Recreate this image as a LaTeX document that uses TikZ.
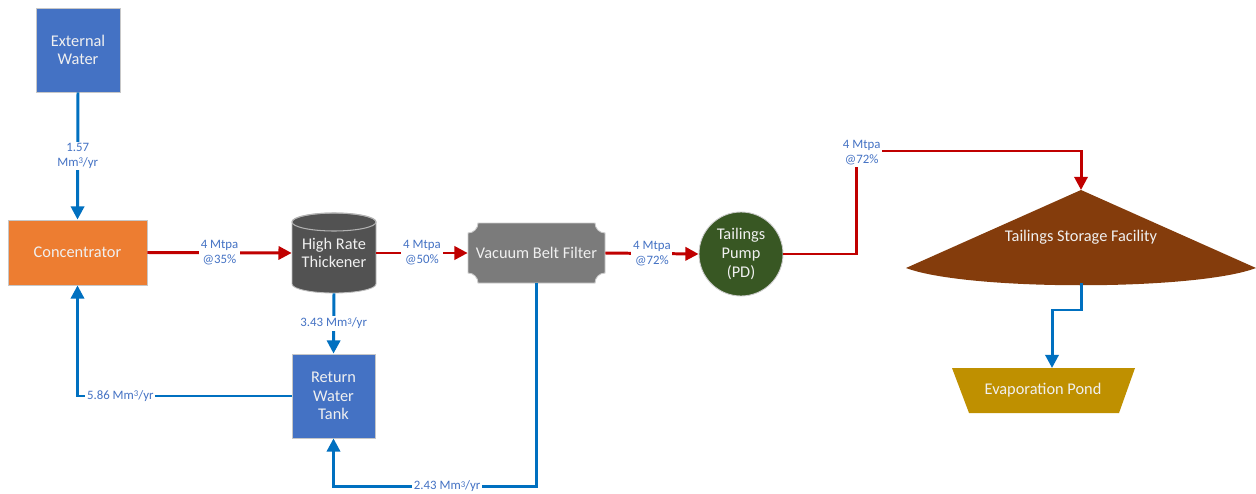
\documentclass[tikz,border=0pt]{standalone}
\usepackage{fontspec}
\setmainfont{Carlito}
\usetikzlibrary{arrows.meta}

\definecolor{waterblue}{HTML}{4472C4}
\definecolor{concorange}{HTML}{ED7D31}
\definecolor{thkgray}{HTML}{525252}
\definecolor{filtergray}{HTML}{7B7B7B}
\definecolor{pumpgreen}{HTML}{385723}
\definecolor{tsfbrown}{HTML}{843C0C}
\definecolor{pondgold}{HTML}{BF9000}
\definecolor{flowred}{HTML}{C00000}
\definecolor{flowblue}{HTML}{0070C0}
\definecolor{labelblue}{HTML}{4472C4}

\newcommand{\mcube}{Mm\raisebox{0.45ex}{\fontsize{5}{5}\selectfont 3}/yr}

\begin{document}
\begin{tikzpicture}[x=0.02cm,y=-0.02cm,
  unit/.style={font=\fontsize{9.3}{10.6}\selectfont, text=white!94!black, align=center, inner sep=0pt},
  boxunit/.style={unit, draw=black!22, line width=0.5pt},
  slurry/.style={draw=flowred, line width=1.7pt, -{Triangle[length=7.5pt,width=7.5pt]}},
  water/.style={draw=flowblue, line width=1.7pt, -{Triangle[length=7.5pt,width=7.5pt]}},
  flowlabel/.style={fill=white, text=labelblue, font=\fontsize{7.3}{8.6}\selectfont, align=center, inner sep=1pt}
]
\fill[white] (0,0) rectangle (1256,493);
\useasboundingbox (0,0) rectangle (1256,493);

% Plain boxes
\node[boxunit, fill=waterblue, minimum width=1.68cm, minimum height=1.68cm] (extw) at (78,50) {External\\Water};
\node[boxunit, fill=concorange, minimum width=2.78cm, minimum height=1.3cm] (conc) at (77.5,252.5) {Concentrator};
\node[boxunit, fill=waterblue, minimum width=1.66cm, minimum height=1.68cm] (tank) at (333.5,396) {Return\\Water\\Tank};

% Thickener drawn as a cylinder
\filldraw[fill=thkgray, draw=black!25, line width=0.5pt]
  (292,222) -- (292,284) arc[start angle=180, end angle=0, x radius=42, y radius=9]
  -- (376,222) arc[start angle=0, end angle=-180, x radius=42, y radius=9] -- cycle;
\draw[black!30, line width=0.6pt] (334,222) ellipse[x radius=42, y radius=9];
\node[unit, minimum width=1.68cm, minimum height=1.6cm] (thk) at (334,253) {High Rate\\Thickener};

% Vacuum belt filter (plaque with hollow corners)
\filldraw[fill=filtergray, draw=black!20, line width=0.5pt]
  (478,223) -- (595,223) arc[start angle=180, end angle=90, radius=10]
  -- (605,273) arc[start angle=270, end angle=180, radius=10]
  -- (478,283) arc[start angle=360, end angle=270, radius=10]
  -- (468,233) arc[start angle=90, end angle=0, radius=10] -- cycle;
\node[unit, minimum width=2.74cm, minimum height=1.2cm] (vbf) at (536.5,253) {Vacuum Belt Filter};

% Pump
\node[unit, circle, fill=pumpgreen, draw=black!20, line width=0.5pt, minimum size=1.68cm] (pump) at (741,254) {Tailings\\Pump\\(PD)};

% Tailings storage facility
\fill[tsfbrown] (906,268) -- (1081,190) -- (1256,268) .. controls (1195,291) and (967,291) .. (906,268) -- cycle;
\node[unit] (tsf) at (1081,237) {Tailings Storage Facility};
\coordinate (tsftop) at (1081,190);
\coordinate (tsfbot) at (1081,283);

% Evaporation pond
\fill[pondgold] (952,368) -- (1135,368) -- (1119,413) -- (969,413) -- cycle;
\node[unit] (pond) at (1043,390) {Evaporation Pond};
\coordinate (pondin) at (1052,368);

% Slurry lines
\draw[slurry] (conc.east) -- node[flowlabel]{4 Mtpa\\@35\%} (thk.west);
\draw[slurry] (thk.east) -- node[flowlabel]{4 Mtpa\\@50\%} (vbf.west);
\draw[slurry] (vbf.east) -- node[flowlabel]{4 Mtpa\\@72\%} (pump.west);
\draw[slurry] (pump.east) -- ++(73,0) -- ++(0,-103) node[flowlabel, xshift=3pt, yshift=-1pt]{4 Mtpa\\@72\%} -| (tsftop);

% Water lines
\draw[water] (extw.south) -- node[flowlabel]{1.57\\\mcube} (conc.north);
\draw[water] (thk.south) -- node[flowlabel]{3.43 \mcube} (tank.north);
\draw[water] (tank.west) -| node[flowlabel, pos=0.4]{5.86 \mcube} (conc.south);
\draw[water] (vbf.south) -- ++(0,203) -| node[flowlabel, pos=0.22]{2.43 \mcube} (tank.south);
\draw[water] (tsfbot) -- ++(0,27) -| (pondin);
\end{tikzpicture}
\end{document}
